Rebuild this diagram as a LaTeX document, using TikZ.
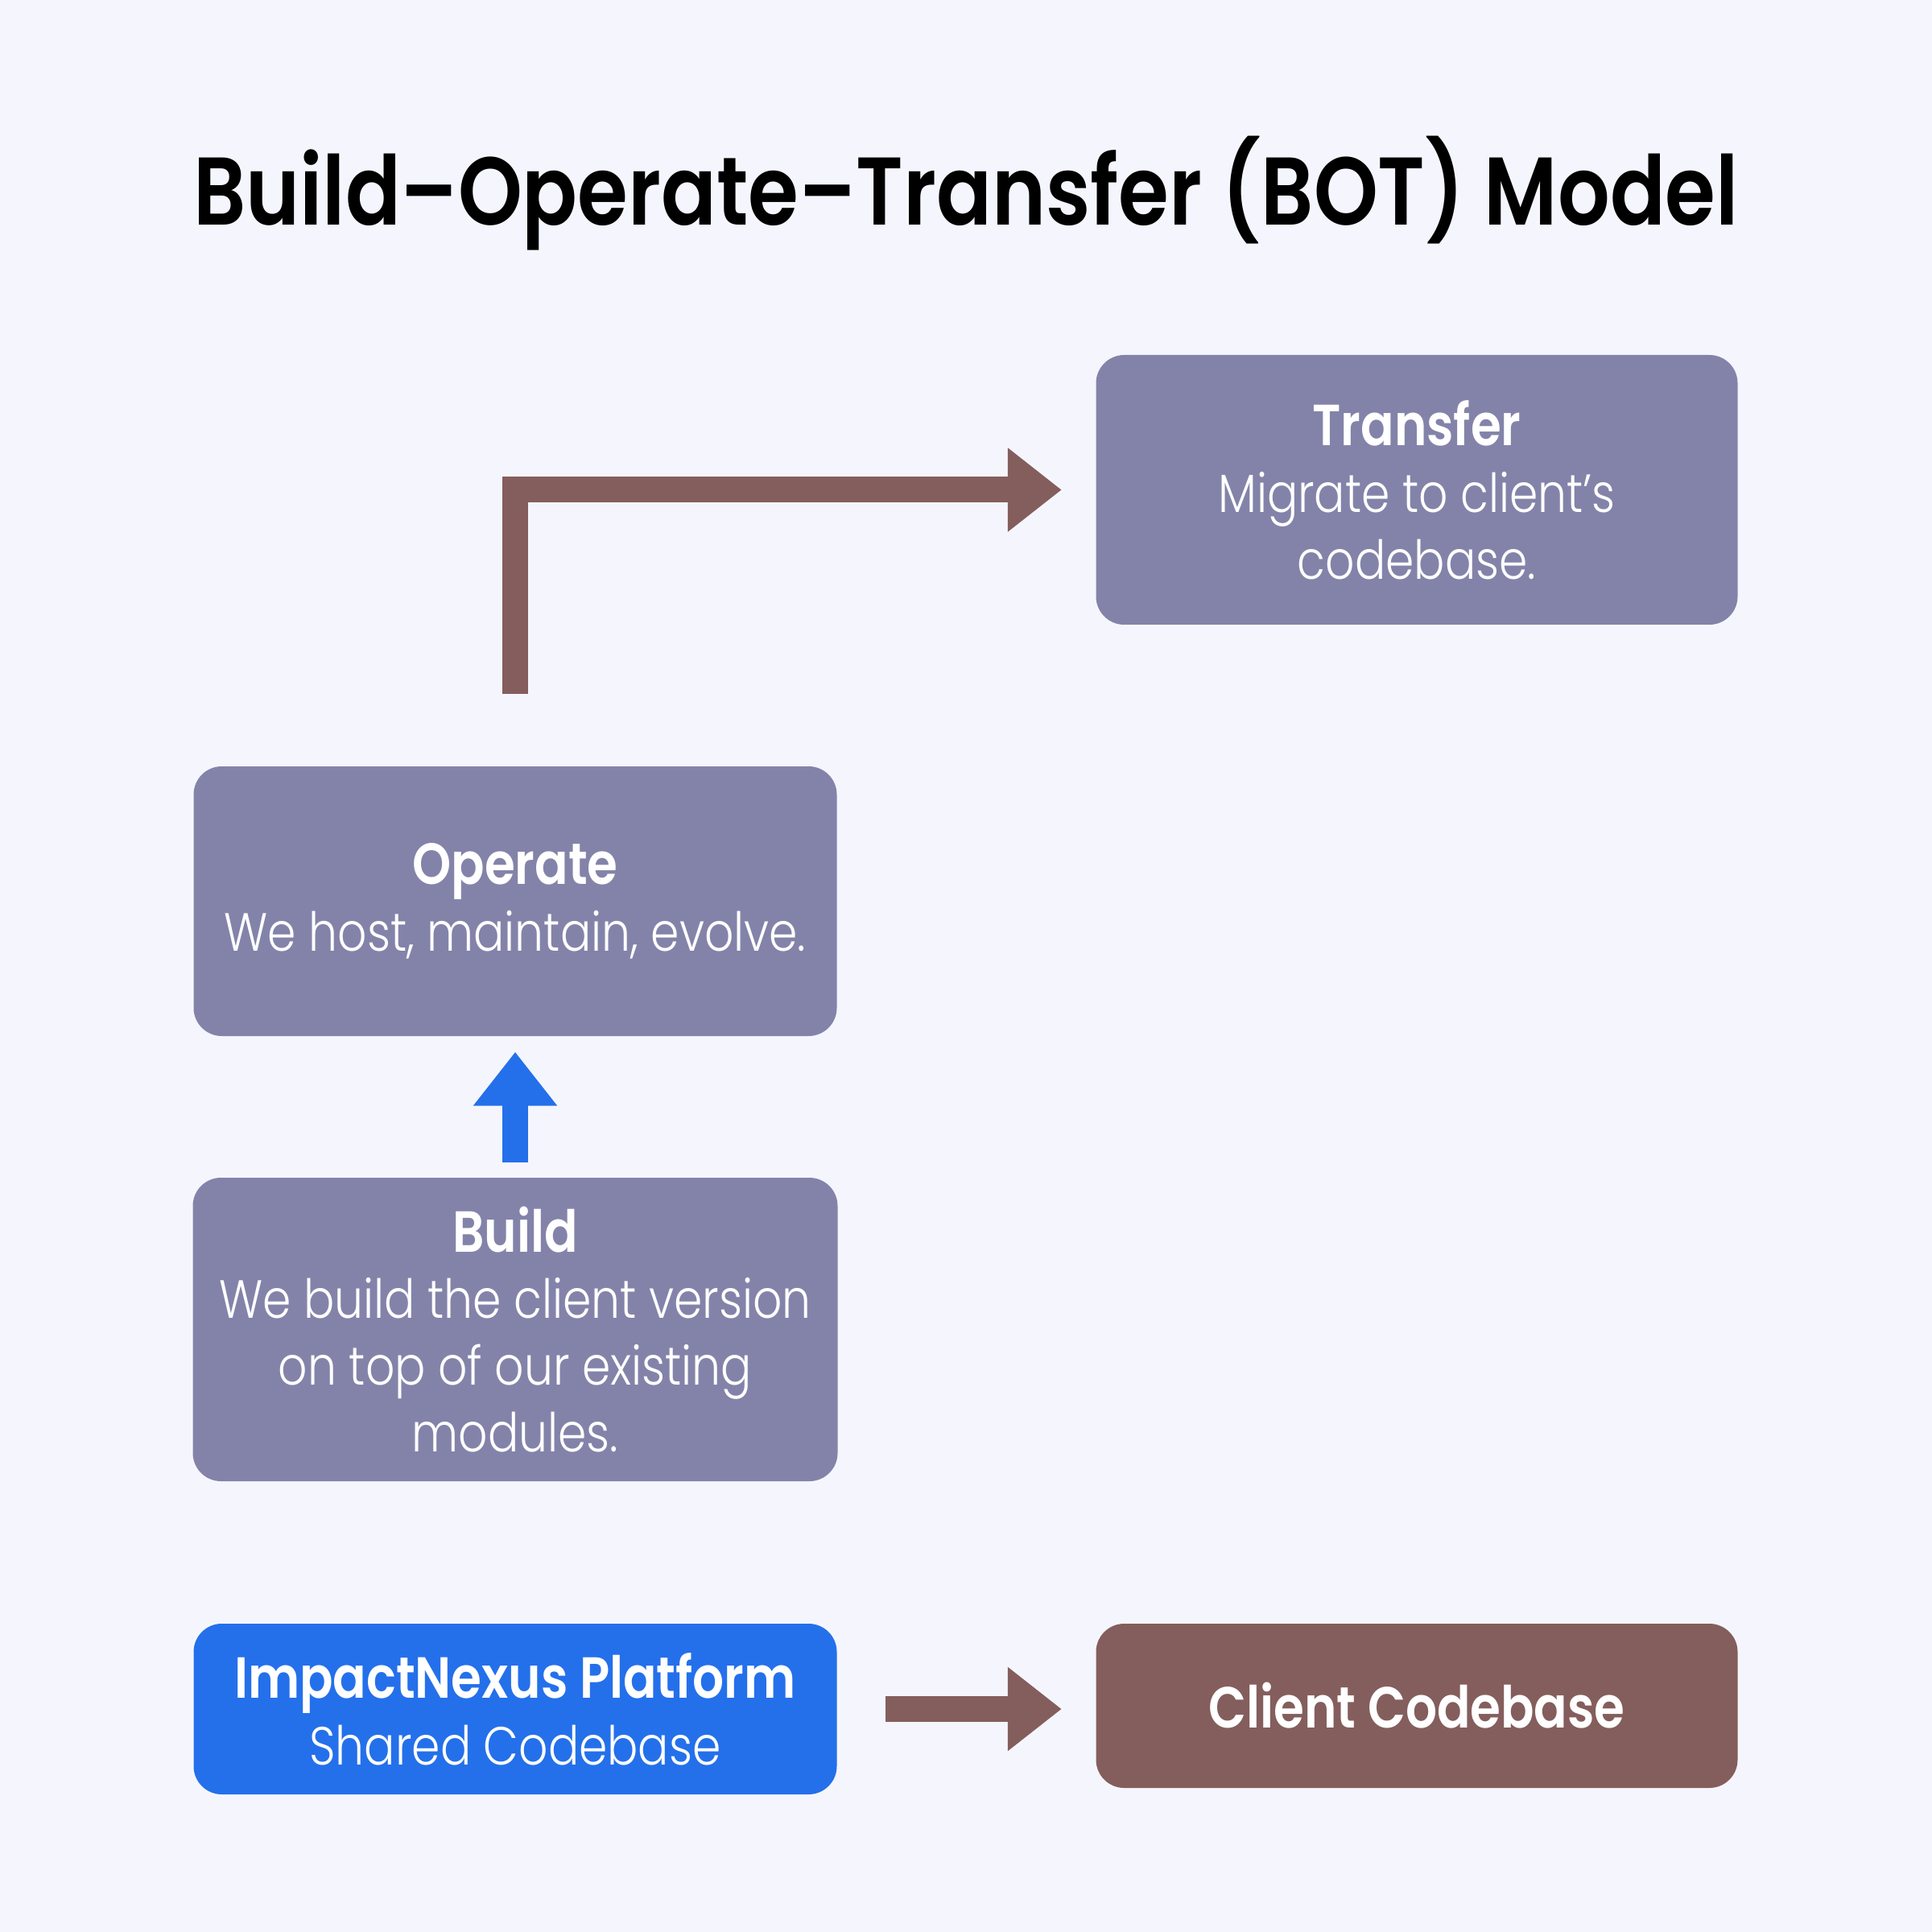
\documentclass[tikz,border=0pt]{standalone}
\usepackage{fontspec}
\setmainfont{Poppins}[UprightFont=* Light, BoldFont=* SemiBold, FakeStretch=0.85]
\usepackage{tikz}
\usetikzlibrary{arrows.meta}

\definecolor{bgcol}{HTML}{F5F6FD}
\definecolor{boxcol}{HTML}{8383AA}
\definecolor{bluecol}{HTML}{2470EB}
\definecolor{browncol}{HTML}{845E5C}

\begin{document}
\begin{tikzpicture}[
    stage/.style={fill=boxcol, rounded corners=0.35cm, text=white, align=center,
        inner sep=0pt, font=\fontsize{19}{23.6}\selectfont},
    flow/.style={line width=0.32cm, -{Triangle[length=0.67cm, width=1.0cm]}},
  ]
            \fill[bgcol] (0,0) rectangle (24,-24);
            \node[anchor=base, font=\bfseries\fontsize{34}{36}\selectfont] (title) at (12,-2.8) {Build–Operate–Transfer (BOT) Model};
            \node[stage, minimum width=7.97cm, minimum height=3.35cm] (transfer) at (17.6,-6.085)
                {{\bfseries\fontsize{20.5}{23.6}\selectfont Transfer}\\Migrate to client’s\\codebase.};
            \node[stage, minimum width=7.99cm, minimum height=3.35cm] (operate) at (6.4,-11.195)
                {{\bfseries\fontsize{20.5}{23.6}\selectfont Operate}\\We host, maintain, evolve.};
            \node[stage, minimum width=8.01cm, minimum height=3.77cm] (build) at (6.4,-16.515)
                {{\bfseries\fontsize{20.5}{23.6}\selectfont Build}\\We build the client version\\on top of our existing\\modules.};
            \node[stage, fill=bluecol, minimum width=7.99cm, minimum height=2.12cm] (platform) at (6.4,-21.23)
                {{\bfseries\fontsize{20.5}{23.6}\selectfont ImpactNexus Platform}\\Shared Codebase};
            \node[stage, fill=browncol, minimum width=7.97cm, minimum height=2.04cm, font=\bfseries\fontsize{20.5}{23.6}\selectfont] (client) at (17.6,-21.19)
                {Client Codebase};
            \draw[flow, browncol] ([yshift=0.89cm]operate.north) |- ([xshift=-0.42cm]transfer.west);
            \draw[flow, bluecol, shorten <=0.18cm, shorten >=0.19cm] (build.north) -- (operate.south);
            \draw[flow, browncol, shorten <=0.6cm, shorten >=0.42cm] (platform.east) -- (platform.east -| client.west);
        \end{tikzpicture}
\end{document}
